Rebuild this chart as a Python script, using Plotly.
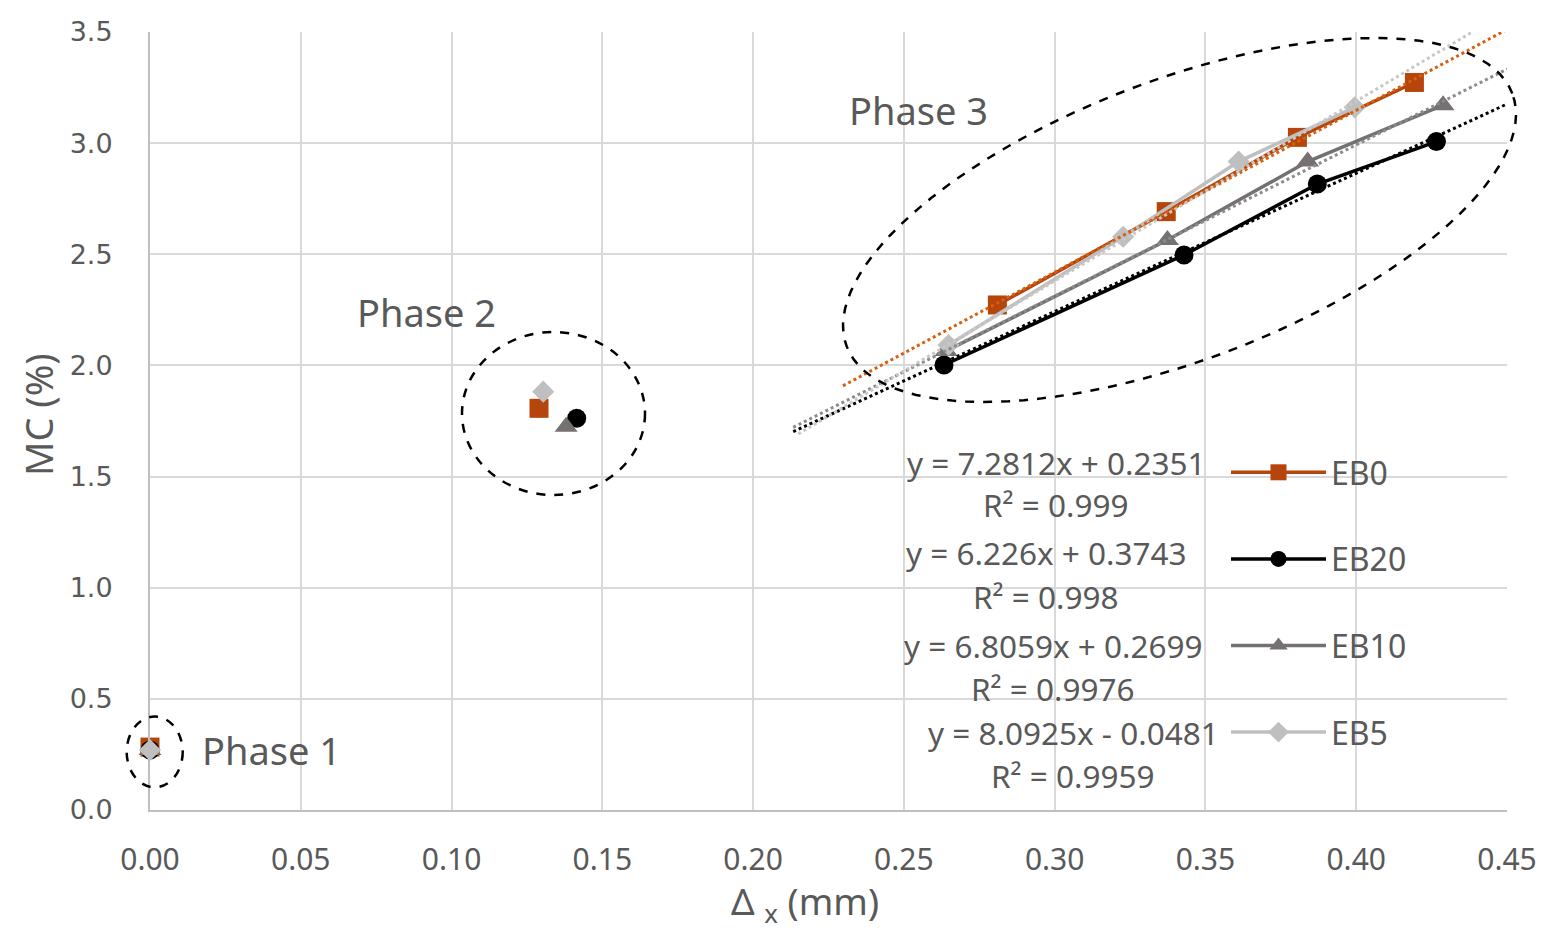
import math
import plotly.graph_objects as go

# ---------------- data ----------------
series_names = ["EB0", "EB20", "EB10", "EB5"]

eb0_x = [0.000, 0.129, 0.281, 0.337, 0.3805, 0.4193]
eb0_y = [0.283, 1.807, 2.272, 2.692, 3.026, 3.273]

eb20_x = [0.000, 0.1415, 0.2633, 0.3429, 0.3871, 0.4266]
eb20_y = [0.270, 1.762, 2.002, 2.497, 2.816, 3.007]

eb10_x = [0.000, 0.138, 0.264, 0.3374, 0.3839, 0.4288]
eb10_y = [0.270, 1.724, 2.065, 2.564, 2.917, 3.171]

eb5_x = [0.000, 0.1304, 0.2648, 0.3227, 0.3610, 0.3995]
eb5_y = [0.270, 1.882, 2.092, 2.579, 2.917, 3.161]

# linear trendlines fitted to phase-3 points (slope, intercept, R²)
trend_slope = [7.2812, 6.226, 6.8059, 8.0925]
trend_intercept = [0.2351, 0.3743, 0.2699, -0.0481]
trend_r2 = ["0.999", "0.998", "0.9976", "0.9959"]
trend_x_start = [0.2298, 0.2133, 0.2133, 0.2150]
trend_x_end = 0.46

phase_labels = ["Phase 1", "Phase 2", "Phase 3"]

x_ticks = [0.00, 0.05, 0.10, 0.15, 0.20, 0.25, 0.30, 0.35, 0.40, 0.45]
y_ticks = [0.0, 0.5, 1.0, 1.5, 2.0, 2.5, 3.0, 3.5]

# ---------------- styles ----------------
colors = ["#B5450B", "#000000", "#767171", "#BFBFBF"]
trend_colors = ["#D5600F", "#000000", "#8C8C8C", "#C8C8C8"]
symbols = ["square", "circle", "triangle-up", "diamond"]
msizes = [19, 19, 20, 17]
TXT = "#595959"

xs = [eb0_x, eb20_x, eb10_x, eb5_x]
ys = [eb0_y, eb20_y, eb10_y, eb5_y]

W, H = 1553, 945
L, R, T, B = 150, 46, 32, 135
PW, PH = W - L - R, H - T - B


def px2paper(px, py):
    return (px - L) / PW, (H - B - py) / PH


def with_gaps(v):
    # phase 1 and phase 2 single points are not connected to phase 3
    return [v[0], None, v[1], None] + list(v[2:])


fig = go.Figure()

for i, name in enumerate(series_names):
    fig.add_trace(go.Scatter(
        x=with_gaps(xs[i]), y=with_gaps(ys[i]), name=name,
        mode="lines+markers", legendgroup=name, cliponaxis=False,
        line=dict(color=colors[i], width=3.5),
        marker=dict(symbol=symbols[i], size=msizes[i], color=colors[i]),
        connectgaps=False,
    ))

for i, name in enumerate(series_names):
    tx = [trend_x_start[i], trend_x_end]
    ty = [trend_slope[i] * v + trend_intercept[i] for v in tx]
    fig.add_trace(go.Scatter(
        x=tx, y=ty, mode="lines", showlegend=False, hoverinfo="skip",
        line=dict(color=trend_colors[i], width=3, dash="dot"),
    ))

# ---------------- ellipses (paper coords so they are not clipped) ----------------
shapes = []
for (x0, x1, y0, y1) in [(126.7, 182.7, 716.5, 787.3), (462, 645, 332, 495)]:
    u0, v0 = px2paper(x0, y1)
    u1, v1 = px2paper(x1, y0)
    shapes.append(dict(type="circle", xref="paper", yref="paper",
                       x0=u0, x1=u1, y0=v0, y1=v1,
                       line=dict(color="black", width=2.5, dash="dash")))

cx, cy, a, b, phi = 1179.5, 220.0, 356.0, 140.0, math.radians(20.8)
pts = []
for k in range(121):
    t = 2 * math.pi * k / 120
    X = cx + a * math.cos(t) * math.cos(phi) - b * math.sin(t) * math.sin(phi)
    Y = cy - (a * math.cos(t) * math.sin(phi) + b * math.sin(t) * math.cos(phi))
    pts.append(px2paper(X, Y))
path = "M " + " L ".join(f"{u:.5f},{v:.5f}" for u, v in pts) + " Z"
shapes.append(dict(type="path", xref="paper", yref="paper", path=path,
                   line=dict(color="black", width=2.5, dash="dash")))

# ---------------- annotations ----------------
ann = []
phase_pos = [(271, 750), (426, 312), (918, 110)]
for lab, (px, py) in zip(phase_labels, phase_pos):
    u, v = px2paper(px, py)
    ann.append(dict(text=lab, xref="paper", yref="paper", x=u, y=v,
                    showarrow=False, xanchor="center", yanchor="middle",
                    font=dict(family="Noto Sans", size=38, color=TXT)))

eq_pos = [(1056, 462, 505), (1046, 552, 596), (1053, 645, 688), (1073, 732, 775)]
for i, (px, py1, py2) in enumerate(eq_pos):
    sgn = "+" if trend_intercept[i] >= 0 else "-"
    eq = f"y = {trend_slope[i]}x {sgn} {abs(trend_intercept[i]):.4f}"
    r2 = f"R² = {trend_r2[i]}"
    for txt, py in [(eq, py1), (r2, py2)]:
        u, v = px2paper(px, py)
        ann.append(dict(text=txt, xref="paper", yref="paper", x=u, y=v,
                        showarrow=False, xanchor="center", yanchor="middle",
                        font=dict(family="Noto Sans", size=31.5, color=TXT)))

# axis titles
u, v = px2paper(805, 903)
ann.append(dict(text="Δ <sub>x</sub> (mm)", xref="paper", yref="paper", x=u, y=v,
                showarrow=False, xanchor="center", yanchor="middle",
                font=dict(family="Noto Sans", size=37, color=TXT)))
u, v = px2paper(38, 415)
ann.append(dict(text="MC (%)", xref="paper", yref="paper", x=u, y=v, textangle=-90,
                showarrow=False, xanchor="center", yanchor="middle",
                font=dict(family="Noto Sans", size=38, color=TXT)))

fig.update_layout(
    width=W, height=H,
    margin=dict(l=L, r=R, t=T, b=B, pad=0),
    paper_bgcolor="white", plot_bgcolor="white",
    shapes=shapes, annotations=ann,
    legend=dict(x=px2paper(1226, 0)[0], y=px2paper(0, 445)[1],
                xanchor="left", yanchor="top",
                font=dict(family="Noto Sans", size=32, color=TXT),
                bgcolor="rgba(0,0,0,0)", tracegroupgap=42, itemwidth=95),
    showlegend=True,
)

fig.update_xaxes(
    range=[0, 0.45], tickvals=x_ticks, ticktext=[f"{v:.2f}" for v in x_ticks],
    showgrid=True, gridcolor="#D9D9D9", gridwidth=2,
    showline=True, linecolor="#BFBFBF", linewidth=2, zeroline=False,
    ticks="", ticklabelstandoff=22,
    tickfont=dict(family="Noto Sans", size=30, color=TXT),
)
fig.update_yaxes(
    range=[0, 3.5], tickvals=y_ticks, ticktext=[f"{v:.1f}" for v in y_ticks],
    showgrid=True, gridcolor="#D9D9D9", gridwidth=2,
    showline=True, linecolor="#BFBFBF", linewidth=2, zeroline=False,
    ticks="", ticklabelstandoff=30,
    tickfont=dict(family="DejaVu Sans", size=27, color=TXT),
)

fig.write_html("out.html")
